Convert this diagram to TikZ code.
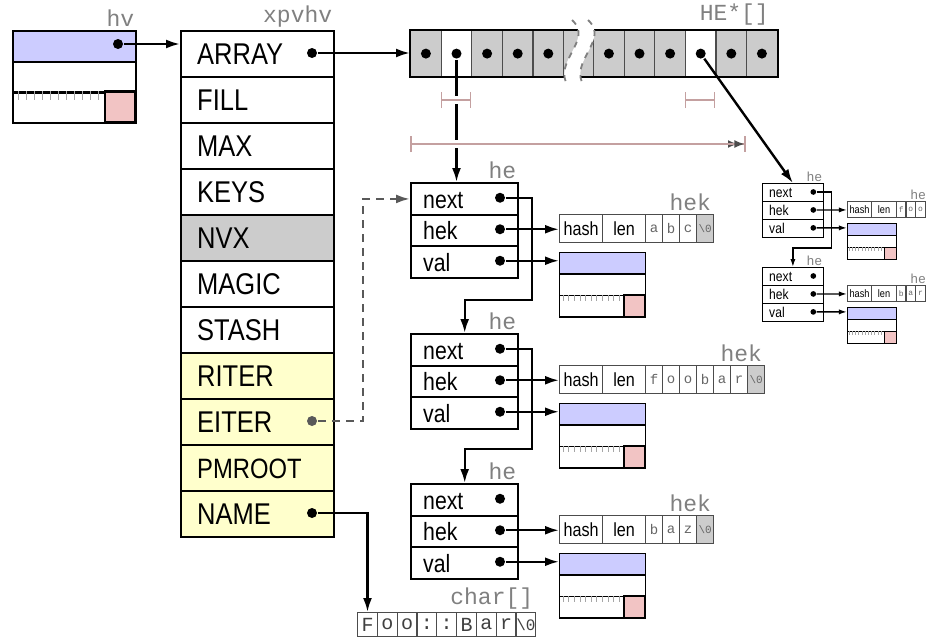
\documentclass[tikz,border=0pt]{standalone}
\usepackage{fontspec}
\usetikzlibrary{arrows.meta}
\newfontfamily\fieldfont[FakeStretch=0.85]{Liberation Sans}
\newfontfamily\tagfont{Liberation Mono}
\definecolor{svblue}{RGB}{204,204,255}
\definecolor{svpink}{RGB}{242,196,196}
\definecolor{auxyellow}{RGB}{255,255,204}
\definecolor{cellgray}{RGB}{204,204,204}
\definecolor{spanrose}{RGB}{196,160,160}
\definecolor{taggray}{RGB}{128,128,128}
\tikzset{
  ptr/.style={-{Latex[length=7pt,width=4.5pt,scale=#1]}},
  ptr/.default=1,
  dot/.style={circle, fill, inner sep=0pt, minimum size=5pt},
  tag/.style={font=\tagfont\fontsize{11.5}{12}\selectfont, text=taggray, inner sep=1pt},
  xfield/.style={draw, anchor=north west, inner xsep=8pt, inner ysep=0pt, text width=60.5pt,
    align=left, minimum height=23pt, text height=10.7pt, text depth=0pt},
  hefield/.style={draw, fill=white, anchor=north west, inner xsep=6pt, inner ysep=0pt, text width=41.5pt,
    align=left, minimum height=15.75pt, text height=9.5pt, text depth=0pt,
    font=\fieldfont\fontsize{12.5}{13}\selectfont},
  cell/.style={draw=black!70, line width=0.6pt, anchor=north west, minimum width=15.3pt,
    minimum height=23pt, inner sep=0pt},
  hekcell/.style={draw=black!70, line width=0.6pt, fill=white, anchor=north west, minimum width=21.5pt,
    minimum height=14pt, inner sep=0pt, font=\fieldfont\fontsize{9.5}{10}\selectfont},
  chrcell/.style={hekcell, minimum width=8.5pt, text=black!60, font=\tagfont\fontsize{7}{7}\selectfont},
  charcell/.style={draw=black!70, line width=0.6pt, anchor=north west, minimum width=9.9pt,
    minimum height=12pt, inner sep=0pt, text=black!75, font=\tagfont\fontsize{10}{10}\selectfont},
  svrow/.style={draw, fill=white, anchor=north west, minimum width=61.5pt, minimum height=15.33pt, inner sep=0pt},
  span/.style={draw=spanrose, line width=0.8pt, preaction={draw=white, line width=4pt}},
  svbox/.pic={
    \node[svrow, fill=svblue] (-a) at (0,0) {};
    \node[svrow] (-b) at (0,30.67) {};
    \node[svrow] (-c) at (0,61.33) {};
    \foreach \t in {0,...,10}
      \draw[black!35, line width=0.5pt] ({6+8*\t},61.33) -- ++(0,9);
    \filldraw[fill=svpink] (93,61.33) rectangle (123,92);
  }
}
\begin{document}
\begin{tikzpicture}[x=0.5pt, y=-0.5pt, line width=1.2pt]
  \useasboundingbox (0,0) rectangle (926,637);
  \clip (0,0) rectangle (926,637);
  % hv head
  \pic (hv) at (12,30) {svbox};
  \node[dot] (hvdot) at (118,44) {};
  \node[tag, anchor=south east] (hvtag) at (hv-a.north east) {hv};
  % xpvhv body
  \foreach \f/\c/\z [count=\i from 0] in {ARRAY/white/15, FILL/white/15, MAX/white/15, KEYS/white/15,
      NVX/cellgray/15, MAGIC/white/15, STASH/white/15, RITER/auxyellow/15, EITER/auxyellow/15,
      PMROOT/auxyellow/14, NAME/auxyellow/15}
    \node[xfield, fill=\c, font=\fieldfont\fontsize{\z}{\z}\selectfont] (\f) at (180,{30+46*\i}) {\f};
  \node[tag, anchor=south east] (xpvhvtag) at (ARRAY.north east) {xpvhv};
  \node[dot] (arraydot) at (312,53) {};
  \node[dot, fill=black!65] (eiterdot) at (312,421) {};
  \node[dot] (namedot) at (312,513) {};
  % HE* array
  \foreach \i/\f in {0/cellgray, 1/white, 2/cellgray, 3/cellgray, 4/cellgray}
    \node[cell, fill=\f] (L\i) at ({410+30.6*\i},30) {};
  \foreach \i/\f in {0/cellgray, 1/cellgray, 2/cellgray, 3/white, 4/cellgray, 5/cellgray}
    \node[cell, fill=\f] (R\i) at ({593+30.6*\i},30) {};
  \fill[cellgray] (L4.north east) rectangle (R0.south west);
  \draw (L0.north west) rectangle (R5.south east);
  \fill[white] (572,20) .. controls (594,40) and (552,62) .. (568,86) -- (584,86)
    .. controls (568,62) and (610,40) .. (588,20) -- cycle;
  \draw[gray, dashed, line width=0.9pt] (572,20) .. controls (594,40) and (552,62) .. (568,86);
  \draw[gray, dashed, line width=0.9pt] (588,20) .. controls (610,40) and (568,62) .. (584,86);
  \foreach \i in {0,...,4} \node[dot] (dL\i) at (L\i) {};
  \foreach \i in {0,...,5} \node[dot] (dR\i) at (R\i) {};
  \node[tag, anchor=south east] (arraytag) at (772,28) {HE*[]};
  % he entries with their hek and value
  \foreach \e/\ex/\ey/\sc/\len/\keys in {1/410/182/1/3/{a,b,c}, 2/410/333/1/6/{f,o,o,b,a,r},
      3/410/483/1/3/{b,a,z}, 4/762/183/0.57/3/{f,o,o}, 5/762/267/0.57/3/{b,a,r}}{
    \begin{scope}[shift={(\ex,\ey)}, scale=\sc, transform shape, line width=1.2pt*\sc]
      \node[hefield] (he\e-next) at (0,0) {next};
      \node[hefield] (he\e-hek) at (0,31.5) {hek};
      \node[hefield] (he\e-val) at (0,63) {val};
      \node[tag, anchor=south east] (he\e-tag) at (he\e-next.north east) {he};
      \node[dot] (he\e-dn) at (90,15.75) {};
      \node[dot] (he\e-dk) at (90,47.25) {};
      \node[dot] (he\e-dv) at (90,78.75) {};
      \node[hekcell] (hek\e-hash) at (149,32) {hash};
      \node[hekcell] (hek\e-len) at (192,32) {len};
      \foreach \c [count=\k from 0] in \keys
        \node[chrcell] (hek\e-c\k) at ({235+17*\k},32) {\c};
      \node[chrcell, fill=cellgray, font=\tagfont\fontsize{5.5}{6}\selectfont] (hek\e-end)
        at ({235+17*\len},32) {\textbackslash 0};
      \node[tag, anchor=south east] (hek\e-tag) at (hek\e-end.north east) {hek};
      \pic[scale=0.7, line width=0.8pt*\sc] (sv\e) at (149,70) {svbox};
      \draw[ptr=\sc] (he\e-dk) -- (he\e-dk -| hek\e-hash.west);
      \draw[ptr=\sc] (he\e-dv) -- (he\e-dv -| sv\e-a.west);
    \end{scope}
  }
  % class name
  \foreach \c [count=\k from 0] in {F,o,o,:,:,B,a,r}
    \node[charcell] (ch\k) at ({357+19.8*\k},612) {\c};
  \node[charcell, font=\tagfont\fontsize{8}{8}\selectfont] (ch8) at ({357+19.8*8},612) {\textbackslash 0};
  \node[tag, anchor=south east] (chartag) at (ch8.north east) {char[]};
  % pointers
  \draw[ptr] (hvdot) -- (hvdot -| ARRAY.west);
  \draw[ptr] (arraydot) -- (arraydot -| L0.west);
  \draw[ptr] (dL1) -- (dL1 |- he1-next.north);
  \draw[ptr] (dR3) -- (he4-next.north);
  \draw[ptr] (he1-dn) -- ++(32,0) -- ++(0,102) -| (he2-next.north);
  \draw[ptr] (he2-dn) -- ++(32,0) -- ++(0,100) -| (he3-next.north);
  \draw[ptr=0.57, line width=0.7pt] (he4-dn) -- ++(18,0) -- ++(0,56) -| (he5-next.north);
  \draw[ptr, black!65, dash pattern=on 4pt off 3pt] (eiterdot) -- ++(51,0) |- (he1-next.west);
  \draw[ptr] (namedot) -| (ch0.north);
  % spans
  \coordinate (s1a) at (440.6,100);
  \coordinate (s1b) at (471.2,100);
  \coordinate (s2a) at (684.8,100);
  \coordinate (s2b) at (715.4,100);
  \coordinate (s3a) at (410,144);
  \coordinate (s3b) at (746,144);
  \draw[span, arrows={Bar[width=8pt]-Bar[width=8pt]}] (s1a) -- (s1b);
  \draw[span, arrows={Bar[width=8pt]-Bar[width=8pt]}] (s2a) -- (s2b);
  \draw[span, arrows={Bar[width=8pt]-Latex[length=5pt,width=4pt,color=black!70] Bar[width=8pt]}] (s3a) -- (s3b);
\end{tikzpicture}
\end{document}
